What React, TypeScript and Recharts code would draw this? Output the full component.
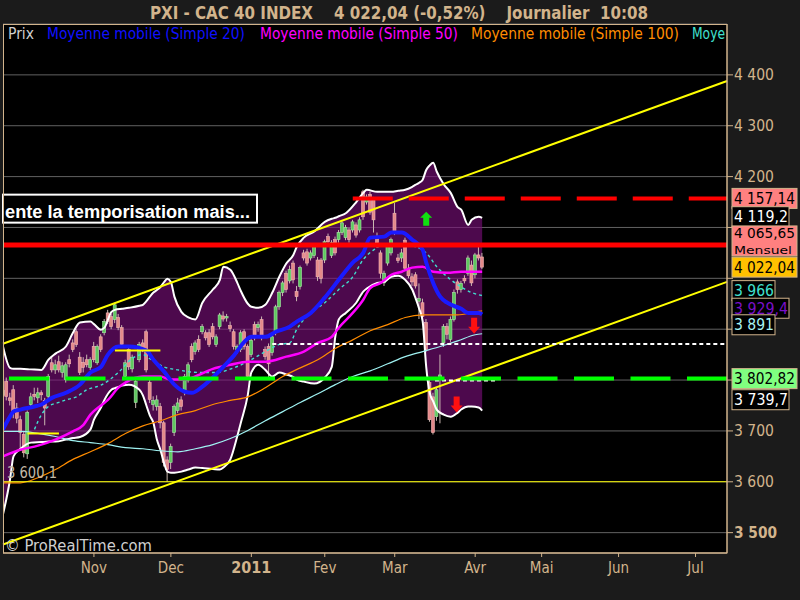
import React from 'react';
import { ComposedChart, Area, Line, Bar, XAxis, YAxis, CartesianGrid, ReferenceLine, ReferenceDot } from 'recharts';

const TAN = '#d2b48c';
const NARROW = "'Liberation Sans Narrow','Arial Narrow','DejaVu Sans Condensed','Liberation Sans',sans-serif";
const SANS = "'Liberation Sans',Arial,sans-serif";

// ---- daily candles (index 0 = 24 Sep 2010, 26 = 1 Nov, 137 = 5 Apr 2011)
const candleOpen = [
  3770, 3797, 3765, 3781, 3745, 3722, 3693, 3655, 3752, 3772, 3765, 3775, 3760, 3768, 3834, 3820, 3836, 3815, 3801, 3840,
  3873, 3895, 3845, 3835, 3840, 3825, 3866, 3834, 3885, 3893, 3932, 3925, 3919, 3923, 3903, 3807, 3860, 3822, 3756, 3840,
  3873, 3895, 3795, 3752, 3748, 3748, 3716, 3643, 3638, 3697, 3740, 3761, 3775, 3800, 3866, 3856, 3880, 3895, 3893, 3893,
  3905, 3870, 3905, 3926, 3922, 3907, 3895, 3860, 3860, 3895, 3866, 3850, 3909, 3903, 3919, 3860, 3866, 3854, 3893, 3944,
  3972, 4010, 3995, 4030, 3974, 3984, 4050, 4052, 4040, 4045, 4036, 4036, 4036, 4082, 4045, 4076, 4076, 4090, 4080, 4095,
  4095, 4105, 4095, 4170, 4150, 4165, 4154, 4080, 4050, 3991, 4030, 4050, 4128, 4040, 4040, 4075, 4020, 4003, 4007, 3955,
  3952, 3913, 3795, 3767, 3728, 3805, 3873, 3905, 3880, 3919, 3993, 3978, 4000, 4010, 4026, 4007, 4046, 4042,
];
const candleHigh = [
  3790, 3805, 3775, 3790, 3755, 3730, 3700, 3740, 3775, 3785, 3785, 3780, 3765, 3812, 3845, 3840, 3848, 3835, 3835, 3850,
  3880, 3900, 3855, 3845, 3850, 3845, 3875, 3870, 3890, 3920, 3938, 3930, 3952, 3930, 3908, 3840, 3866, 3850, 3805, 3875,
  3880, 3899, 3800, 3768, 3770, 3755, 3720, 3650, 3675, 3752, 3765, 3768, 3812, 3835, 3872, 3878, 3888, 3910, 3898, 3900,
  3912, 3890, 3932, 3935, 3930, 3915, 3900, 3870, 3898, 3900, 3870, 3882, 3915, 3915, 3925, 3866, 3872, 3890, 3948, 3976,
  3995, 4015, 4025, 4035, 3985, 4025, 4056, 4058, 4055, 4066, 4042, 4040, 4076, 4088, 4075, 4082, 4095, 4112, 4105, 4100,
  4115, 4110, 4120, 4174, 4165, 4170, 4160, 4090, 4055, 4015, 4066, 4080, 4148, 4048, 4058, 4080, 4028, 4010, 4012, 3990,
  3960, 3920, 3800, 3775, 3785, 3850, 3910, 3912, 3925, 3978, 3998, 3995, 4006, 4045, 4035, 4050, 4062, 4050,
];
const candleLow = [
  3755, 3760, 3750, 3725, 3715, 3663, 3648, 3645, 3745, 3760, 3755, 3760, 3711, 3760, 3815, 3812, 3815, 3805, 3795, 3825,
  3855, 3865, 3810, 3815, 3825, 3820, 3835, 3830, 3855, 3888, 3910, 3900, 3912, 3898, 3865, 3800, 3820, 3815, 3745, 3835,
  3855, 3815, 3755, 3740, 3740, 3705, 3630, 3600, 3625, 3690, 3735, 3740, 3770, 3795, 3835, 3850, 3855, 3890, 3878, 3865,
  3880, 3865, 3900, 3915, 3915, 3895, 3860, 3852, 3855, 3860, 3800, 3845, 3878, 3895, 3878, 3840, 3801, 3848, 3888, 3938,
  3965, 3972, 3990, 3990, 3955, 3978, 4035, 4025, 4035, 4040, 3995, 3990, 4030, 4065, 4040, 4045, 4070, 4085, 4075, 4070,
  4090, 4080, 4090, 4115, 4145, 4125, 4090, 4060, 4000, 3985, 4025, 4045, 4085, 4030, 4032, 4015, 4000, 3985, 3980, 3920,
  3920, 3855, 3718, 3693, 3720, 3715, 3865, 3880, 3875, 3915, 3970, 3972, 3990, 4005, 3985, 4000, 4035, 4018,
];
const candleClose = [
  3780, 3768, 3760, 3736, 3725, 3697, 3657, 3736, 3767, 3768, 3775, 3771, 3745, 3807, 3820, 3830, 3820, 3828, 3830, 3832,
  3860, 3870, 3815, 3825, 3830, 3840, 3840, 3866, 3860, 3915, 3915, 3905, 3948, 3903, 3870, 3834, 3826, 3845, 3797, 3870,
  3860, 3820, 3762, 3760, 3761, 3716, 3638, 3624, 3669, 3748, 3755, 3748, 3807, 3830, 3840, 3873, 3860, 3905, 3883, 3870,
  3885, 3885, 3928, 3920, 3925, 3901, 3866, 3866, 3893, 3866, 3807, 3878, 3883, 3909, 3883, 3846, 3832, 3885, 3944, 3972,
  3991, 3978, 4017, 3997, 3964, 4021, 4040, 4030, 4050, 4062, 4003, 4000, 4072, 4072, 4070, 4050, 4090, 4109, 4100, 4076,
  4111, 4085, 4115, 4121, 4160, 4130, 4115, 4070, 4010, 4010, 4062, 4076, 4090, 4035, 4050, 4020, 4005, 3993, 3985, 3960,
  3925, 3860, 3722, 3697, 3781, 3810, 3905, 3890, 3919, 3972, 3978, 3990, 3995, 4040, 3991, 4046, 4040, 4022,
];

// ---- Bollinger bands (sampled days)
const bandIdx = [0, 2, 3, 5, 8, 11, 13, 15, 18, 20, 22, 25, 26, 28, 29, 31, 32, 34, 36, 39, 40, 41, 42, 43, 44, 45, 46, 47, 48, 49,
  51, 53, 55, 57, 60, 62, 63, 65, 67, 68, 70, 71, 73, 75, 77, 79, 81, 83, 84, 86, 89, 92, 94, 95, 96, 98, 101, 103, 104, 107,
  109, 111, 113, 115, 117, 118, 119, 120, 121, 122, 123, 124, 126, 128, 130, 131, 133, 134, 136, 137];
const bandUpper = [3866, 3824, 3822, 3822, 3821, 3820, 3840, 3852, 3866, 3893, 3913, 3915, 3910, 3899, 3903, 3934, 3938, 3940, 3942, 3946,
  3948, 3955, 3964, 3972, 3977, 3983, 3992, 3999, 3993, 3964, 3934, 3923, 3919, 3952, 3978, 3997, 4023, 4017, 3991, 3975,
  3950, 3944, 3942, 3948, 3972, 4003, 4029, 4046, 4062, 4080, 4092, 4111, 4117, 4119, 4122, 4128, 4150, 4168, 4174, 4170,
  4170, 4170, 4172, 4174, 4180, 4184, 4188, 4194, 4213, 4222, 4227, 4210, 4185, 4168, 4140, 4135, 4105, 4115, 4121, 4119];
const bandLower = [3536, 3604, 3650, 3665, 3677, 3678, 3679, 3679, 3683, 3686, 3688, 3703, 3722, 3746, 3761, 3781, 3784, 3789, 3791, 3781,
  3770, 3750, 3730, 3716, 3683, 3663, 3638, 3620, 3618, 3618, 3620, 3624, 3628, 3627, 3625, 3624, 3628, 3644, 3690, 3716,
  3771, 3815, 3830, 3820, 3807, 3815, 3811, 3806, 3801, 3797, 3793, 3805, 3826, 3885, 3919, 3932, 3952, 3974, 3980, 3991,
  3993, 4003, 4005, 3997, 3978, 3960, 3940, 3915, 3826, 3775, 3758, 3742, 3732, 3728, 3736, 3742, 3748, 3748, 3746, 3740];

// ---- moving averages [day, value]
const ma20: [number, number][] = [[0, 3703], [2, 3728], [3, 3738], [5, 3742], [9, 3748], [11, 3752], [14, 3765], [18, 3775], [22, 3791], [25, 3815],
  [28, 3826], [30, 3850], [33, 3866], [36, 3866], [41, 3858], [43, 3840], [46, 3817], [49, 3791], [52, 3777], [54, 3775], [57, 3787],
  [60, 3805], [63, 3826], [66, 3848], [69, 3875], [71, 3885], [75, 3885], [78, 3895], [82, 3905], [84, 3915], [88, 3932], [92, 3962],
  [96, 3997], [100, 4031], [103, 4050], [105, 4080], [109, 4082], [111, 4090], [114, 4090], [117, 4076], [120, 4056], [121, 4031],
  [123, 3991], [125, 3964], [127, 3952], [131, 3940], [133, 3932], [136, 3932], [137, 3929]];
const ma50: [number, number][] = [[0, 3650], [5, 3663], [10, 3671], [15, 3683], [20, 3699], [23, 3712], [25, 3732], [28, 3750], [30, 3761],
  [33, 3785], [35, 3795], [40, 3807], [45, 3807], [48, 3801], [52, 3801], [55, 3807], [60, 3822], [65, 3830], [70, 3836], [75, 3836],
  [81, 3846], [86, 3856], [90, 3873], [94, 3885], [96, 3903], [100, 3932], [103, 3958], [105, 3981], [108, 3991], [111, 4007],
  [114, 4013], [117, 4021], [120, 4023], [123, 4013], [127, 4011], [131, 4013], [137, 4013]];
const ma100: [number, number][] = [[0, 3598], [5, 3598], [10, 3608], [15, 3624], [20, 3644], [25, 3659], [30, 3675], [35, 3695], [40, 3710],
  [45, 3720], [50, 3732], [55, 3740], [60, 3752], [65, 3760], [70, 3767], [75, 3785], [80, 3807], [85, 3824], [90, 3840], [95, 3862],
  [100, 3879], [105, 3897], [110, 3909], [115, 3923], [120, 3928], [125, 3928], [130, 3928], [135, 3934], [137, 3936]];
const maCyan: [number, number][] = [[9, 3703], [11, 3732], [13, 3748], [16, 3756], [18, 3761], [21, 3767], [24, 3781], [28, 3790], [33, 3815],
  [37, 3843], [40, 3850], [42, 3842], [46, 3826], [50, 3820], [56, 3815], [61, 3815], [66, 3824], [71, 3840], [76, 3860], [79, 3870],
  [82, 3873], [84, 3900], [88, 3932], [92, 3952], [96, 3978], [100, 4003], [103, 4037], [106, 4056], [109, 4066], [114, 4066],
  [118, 4062], [121, 4050], [124, 4023], [127, 4003], [131, 3983], [134, 3972], [137, 3966]];
const maLong: [number, number][] = [[0, 3699], [5, 3699], [10, 3695], [15, 3689], [20, 3681], [25, 3677], [30, 3673], [35, 3667], [40, 3665],
  [45, 3661], [50, 3659], [55, 3665], [60, 3673], [65, 3685], [70, 3701], [75, 3720], [80, 3738], [85, 3756], [90, 3773], [95, 3791],
  [100, 3807], [105, 3818], [110, 3832], [115, 3846], [120, 3856], [125, 3866], [130, 3877], [135, 3889], [137, 3891]];

// ---- axes
const monthTicks = [26, 48, 71, 92, 112, 135, 154, 176, 198];
const monthLabels = ['Nov', 'Dec', '2011', 'Fev', 'Mar', 'Avr', 'Mai', 'Jun', 'Jul'];
const priceTicks = [3500, 3600, 3700, 3800, 3900, 4000, 4100, 4200, 4300, 4400];
const coveredTickLabels = [3800, 3900, 4000, 4100]; // hidden behind the price tags

// ---- drawn objects
const channelUpper = [[0, 3871.5], [207, 4388]];
const channelLower = [[0, 3476.6], [207, 3993]];
const resistance = 4065.65;
const topDashed = { from: 100, value: 4157.14 };
const supportDashed = 3802.82;
const dottedLevel = { from: 77, value: 3871 };
const dottedShort = { from: 123.5, to: 141.5, value: 3799 };
const lowLevel = 3600.1;
const yellowShort = [{ from: 32, to: 45, value: 3858 }, { from: 7, to: 16, value: 3695 }];
const upArrows = [{ x: 121, y: 4117 }];
const downArrows = [{ x: 134.7, y: 3907 }, { x: 129.7, y: 3752 }];

const priceTags = [
  { value: 4157.14, text: '4 157,14', bg: '#ff8080', fg: '#000', dy: 0, w: 65, tl: 61 },
  { value: 4119.2, text: '4 119,2', bg: '#000', fg: '#fff', dy: -1, w: 57, tl: 54 },
  { value: 4065.65, text: '4 065,65', bg: '#ff8080', fg: '#000', dy: 0, w: 65, tl: 61, sub: 'Mensuel' },
  { value: 4022.04, text: '4 022,04', bg: '#ffc000', fg: '#000', dy: 0, w: 65, tl: 61 },
  { value: 3966, text: '3 966', bg: '#000', fg: '#40e0d0', dy: -5, w: 43, tl: 40 },
  { value: 3929.4, text: '3 929,4', bg: '#000', fg: '#7a10c8', dy: -6, w: 57, tl: 54 },
  { value: 3891, text: '3 891', bg: '#000', fg: '#a8f4f4', dy: -9, w: 43, tl: 40 },
  { value: 3802.82, text: '3 802,82', bg: '#80ff80', fg: '#000', dy: 0, w: 65, tl: 61 },
  { value: 3739.7, text: '3 739,7', bg: '#000', fg: '#fff', dy: -11, w: 57, tl: 54 },
];

// ---- build the table
const N = 208;
const data: any[] = Array.from({ length: N }, (_, i) => ({ i }));
candleOpen.forEach((o, i) => {
  data[i].o = o; data[i].h = candleHigh[i]; data[i].l = candleLow[i]; data[i].c = candleClose[i];
  data[i].hl = [candleLow[i], candleHigh[i]];
});
bandIdx.forEach((idx, k) => {
  data[idx].bu = bandUpper[k]; data[idx].bl = bandLower[k]; data[idx].band = [bandLower[k], bandUpper[k]];
});
const put = (arr: [number, number][], key: string) => arr.forEach(([idx, v]) => { data[idx][key] = v; });
put(ma20, 'ma20'); put(ma50, 'ma50'); put(ma100, 'ma100'); put(maCyan, 'maCyan'); put(maLong, 'maLong');

const fmt = (v: number) => { const s = String(v); return s.length === 4 ? s[0] + ' ' + s.slice(1) : s; };

const Candle = (props: any) => {
  const { x, y, width, height, payload } = props;
  if (!payload || payload.h == null) return null;
  const { o, h, l, c } = payload;
  const top0 = Math.min(y, y + height);
  const hh = Math.abs(height);
  const k = hh / (h - l);
  const cx = x + width / 2;
  const bt = top0 + (h - Math.max(o, c)) * k;
  const bb = top0 + (h - Math.min(o, c)) * k;
  const up = c >= o;
  return (
    <g>
      <line x1={cx} x2={cx} y1={top0} y2={top0 + hh} stroke="#cbb8b2" strokeWidth={1} />
      <rect x={cx - 1.5} y={bt} width={3} height={Math.max(1, bb - bt)} fill={up ? '#5fc85f' : '#e48a8a'}
        stroke={up ? '#a8e8a8' : '#f3b5b5'} strokeWidth={0.6} />
    </g>
  );
};

const YTick = (props: any) => {
  const { x, y, payload } = props;
  const v = payload.value;
  if (coveredTickLabels.includes(v)) return <g />;
  const bold = v === 3500;
  return (
    <text x={x + 1} y={y} dy={5} fill={TAN} fontSize={bold ? 16 : 15} fontWeight={bold ? 700 : 400}
      fontFamily={NARROW} textLength={bold ? 43 : 40} lengthAdjust="spacingAndGlyphs">{fmt(v)}</text>
  );
};

const XTick = (props: any) => {
  const { x, y, payload } = props;
  const k = monthTicks.indexOf(payload.value);
  const label = monthLabels[k] ?? '';
  const bold = label === '2011';
  return (
    <text x={x} y={y} dy={14} textAnchor="middle" fill={TAN} fontSize={bold ? 16 : 15} fontWeight={bold ? 700 : 400}
      fontFamily={NARROW}>{label}</text>
  );
};

const Tag = (t: any) => (p: any) => {
  const { cx, cy } = p;
  const x0 = cx + 5;
  const c = cy + t.dy;
  if (t.sub) {
    return (
      <g>
        <rect x={x0} y={c - 19} width={t.w} height={30} fill={t.bg} stroke={TAN} strokeWidth={1} />
        <text x={x0 + 2} y={c - 7} fill={t.fg} fontSize={14} fontFamily={NARROW} textLength={t.tl} lengthAdjust="spacingAndGlyphs">{t.text}</text>
        <text x={x0 + 2} y={c + 9} fill={t.fg} fontSize={11} fontFamily={NARROW} textLength={58} lengthAdjust="spacingAndGlyphs">{t.sub}</text>
      </g>
    );
  }
  return (
    <g>
      <rect x={x0} y={c - 10} width={t.w} height={20} fill={t.bg} stroke={TAN} strokeWidth={1} />
      <text x={x0 + 2} y={c + 5.5} fill={t.fg} fontSize={15} fontFamily={NARROW} textLength={t.tl} lengthAdjust="spacingAndGlyphs">{t.text}</text>
    </g>
  );
};

const UpArrow = (p: any) => {
  const { cx, cy } = p;
  return <path d={`M${cx},${cy - 7} L${cx + 6},${cy - 1} L${cx + 3},${cy - 1} L${cx + 3},${cy + 7} L${cx - 3},${cy + 7} L${cx - 3},${cy - 1} L${cx - 6},${cy - 1} Z`} fill="#10e010" />;
};
const DownArrow = (p: any) => {
  const { cx, cy } = p;
  return <path d={`M${cx},${cy + 8} L${cx + 6},${cy + 1} L${cx + 3},${cy + 1} L${cx + 3},${cy - 8} L${cx - 3},${cy - 8} L${cx - 3},${cy + 1} L${cx - 6},${cy + 1} Z`} fill="#ff1010" />;
};

const NoteBox = (p: any) => {
  const { cx, cy } = p;
  return (
    <g>
      <rect x={cx} y={cy - 14} width={254} height={28} fill="#000" stroke="#fff" strokeWidth={2} />
      <text x={cx + 2} y={cy + 9} fill="#fff" fontSize={18} fontWeight={700} fontFamily={SANS} textLength={245} lengthAdjust="spacingAndGlyphs">ente la temporisation mais...</text>
    </g>
  );
};

const LowLabel = (p: any) => {
  const { cx, cy } = p;
  return <text x={cx + 4} y={cy - 4} fill="#c4baa8" fontSize={15} fontFamily={NARROW} textLength={50} lengthAdjust="spacingAndGlyphs">3 600,1</text>;
};

export default function App() {
  return (
    <div style={{ position: 'absolute', left: 0, top: 0, width: 800, height: 600, background: '#1b1b1b', overflow: 'hidden' }}>
      <ComposedChart width={800} height={600} data={data} margin={{ top: 24, right: 0, bottom: 0, left: 3 }}>
        <CartesianGrid horizontal vertical={false} stroke="#626262" fill="#000" />
        <XAxis type="number" dataKey="i" domain={[0, 207]} allowDataOverflow ticks={monthTicks} tick={<XTick />}
          height={47} tickSize={4} stroke={TAN} axisLine={{ stroke: TAN }} tickLine={{ stroke: TAN }} interval={0} />
        <YAxis orientation="right" type="number" domain={[3460, 4500]} allowDataOverflow ticks={priceTicks} tick={<YTick />}
          width={73} tickSize={6} tickMargin={0} axisLine={{ stroke: TAN }} tickLine={{ stroke: TAN }} interval={0} />
        <Area dataKey="band" type="monotone" fill="#7d0f7d" fillOpacity={0.62} stroke="none" connectNulls isAnimationActive={false} />
        <Line dataKey="bu" type="monotone" stroke="#ffffff" strokeWidth={2} dot={false} connectNulls isAnimationActive={false} />
        <Line dataKey="bl" type="monotone" stroke="#ffffff" strokeWidth={2} dot={false} connectNulls isAnimationActive={false} />
        <Bar dataKey="hl" barSize={3} shape={<Candle />} isAnimationActive={false} />
        <Line dataKey="maLong" type="monotone" stroke="#9ff2f2" strokeWidth={1.2} dot={false} connectNulls isAnimationActive={false} />
        <Line dataKey="ma100" type="monotone" stroke="#ff8c00" strokeWidth={1.2} dot={false} connectNulls isAnimationActive={false} />
        <Line dataKey="maCyan" type="monotone" stroke="#40e0d0" strokeWidth={1.4} strokeDasharray="3 3" dot={false} connectNulls isAnimationActive={false} />
        <Line dataKey="ma50" type="monotone" stroke="#ff00ff" strokeWidth={2.5} dot={false} connectNulls isAnimationActive={false} />
        <Line dataKey="ma20" type="monotone" stroke="#1a1aff" strokeWidth={4} dot={false} connectNulls isAnimationActive={false} />

        <ReferenceLine y={lowLevel} stroke="#ffff00" strokeWidth={1} />
        {yellowShort.map((s, k) => (
          <ReferenceLine key={'ys' + k} segment={[{ x: s.from, y: s.value }, { x: s.to, y: s.value }]} stroke="#ffff00" strokeWidth={2} />
        ))}
        <ReferenceLine segment={[{ x: channelUpper[0][0], y: channelUpper[0][1] }, { x: channelUpper[1][0], y: channelUpper[1][1] }]} stroke="#ffff00" strokeWidth={2} />
        <ReferenceLine segment={[{ x: channelLower[0][0], y: channelLower[0][1] }, { x: channelLower[1][0], y: channelLower[1][1] }]} stroke="#ffff00" strokeWidth={2} />
        <ReferenceLine segment={[{ x: dottedLevel.from, y: dottedLevel.value }, { x: 207, y: dottedLevel.value }]} stroke="#ffffff" strokeWidth={2} strokeDasharray="4 3" />
        <ReferenceLine segment={[{ x: dottedShort.from, y: dottedShort.value }, { x: dottedShort.to, y: dottedShort.value }]} stroke="#ffffff" strokeWidth={2} strokeDasharray="4 3" />
        <ReferenceLine y={supportDashed} stroke="#00ff00" strokeWidth={4} strokeDasharray="40 16.5" />
        <ReferenceLine y={resistance} stroke="#ff0000" strokeWidth={5} />
        <ReferenceLine segment={[{ x: topDashed.from, y: topDashed.value }, { x: 207, y: topDashed.value }]} stroke="#ff0000" strokeWidth={4} strokeDasharray="40 16" />

        {upArrows.map((a, k) => <ReferenceDot key={'ua' + k} x={a.x} y={a.y} r={0} shape={UpArrow} />)}
        {downArrows.map((a, k) => <ReferenceDot key={'da' + k} x={a.x} y={a.y} r={0} shape={DownArrow} />)}
        <ReferenceDot x={0} y={4137} r={0} shape={NoteBox} />
        <ReferenceDot x={0} y={lowLevel} r={0} shape={LowLabel} />
        {priceTags.map((t, k) => <ReferenceDot key={'pt' + k} x={207} y={t.value} r={0} shape={Tag(t)} />)}
      </ComposedChart>

      <svg width={800} height={600} style={{ position: 'absolute', left: 0, top: 0, pointerEvents: 'none' }}>
        <text x={150} y={19} fill={TAN} fontSize={17} fontWeight={700} fontFamily={NARROW} textLength={498} lengthAdjust="spacingAndGlyphs" xmlSpace="preserve">PXI - CAC 40 INDEX    4 022,04 (-0,52%)    Journalier  10:08</text>
        <g fontFamily={NARROW} fontSize={15}>
          <text x={8} y={39} fill="#cfcfcf" textLength={26} lengthAdjust="spacingAndGlyphs">Prix</text>
          <text x={47} y={39} fill="#1010ff" textLength={198} lengthAdjust="spacingAndGlyphs">Moyenne mobile (Simple 20)</text>
          <text x={260} y={39} fill="#ff00ff" textLength={198} lengthAdjust="spacingAndGlyphs">Moyenne mobile (Simple 50)</text>
          <text x={471} y={39} fill="#ff8c00" textLength={208} lengthAdjust="spacingAndGlyphs">Moyenne mobile (Simple 100)</text>
          <text x={692} y={39} fill="#40e0d0" textLength={33} lengthAdjust="spacingAndGlyphs">Moye</text>
        </g>
        <rect x={3.5} y={24.5} width={723.5} height={528.5} fill="none" stroke={TAN} strokeWidth={1} />
        <text x={5} y={551} fill="#cfcfcf" fontSize={15} fontFamily={NARROW} textLength={147} lengthAdjust="spacingAndGlyphs">© ProRealTime.com</text>
      </svg>
    </div>
  );
}
